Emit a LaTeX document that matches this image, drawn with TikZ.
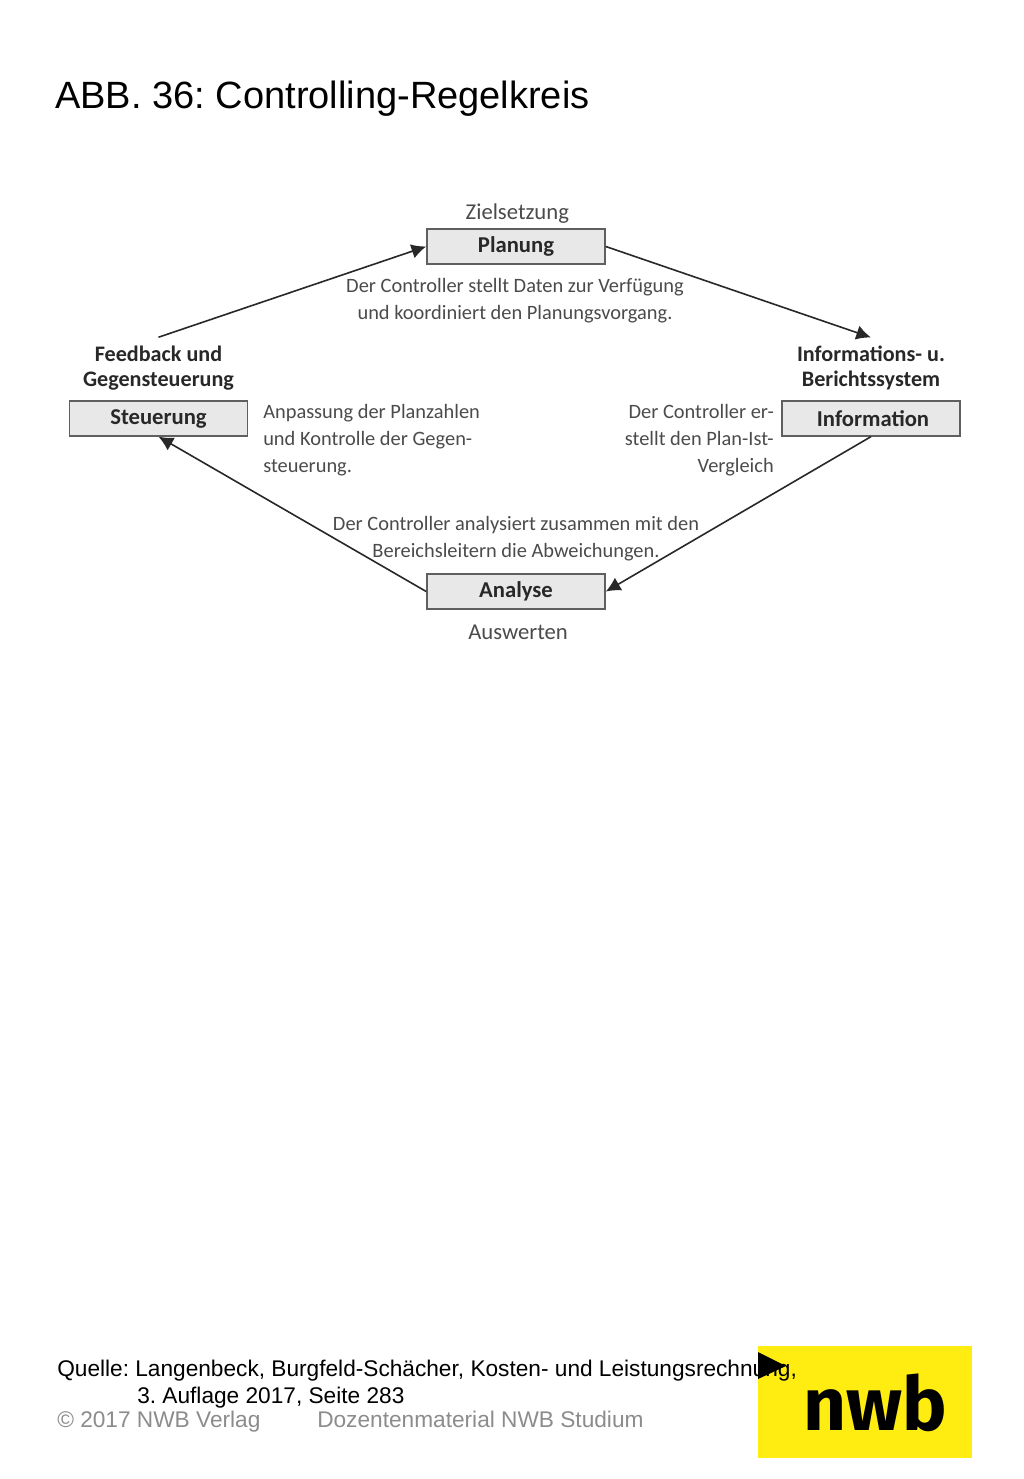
\documentclass[tikz,border=0pt]{standalone}
\usepackage{fontspec}
\setmainfont{Liberation Sans}
\newfontfamily\figfont{Carlito}
\usetikzlibrary{arrows.meta, positioning}
\definecolor{boxgray}{RGB}{232,232,232}
\definecolor{boxline}{RGB}{95,95,95}
\definecolor{figtext}{RGB}{75,75,75}
\definecolor{headtext}{RGB}{40,40,40}
\definecolor{footgray}{RGB}{140,140,140}
\definecolor{nwbyellow}{RGB}{255,237,18}

\begin{document}
\frenchspacing
\begin{tikzpicture}[
		x=0.75pt, y=-0.75pt,
		stage/.style={draw=boxline, fill=boxgray, line width=1.2pt, minimum width=133.5pt,
			minimum height=26pt, inner sep=0pt, font=\figfont\fontsize{17}{20}\selectfont\bfseries, text=headtext},
		goal/.style={align=center, inner sep=0pt, font=\figfont\fontsize{17}{20}\selectfont, text=figtext},
		headgoal/.style={goal, font=\figfont\fontsize{16.6}{19}\selectfont\bfseries, text=headtext},
		note/.style={inner sep=0pt, font=\figfont\fontsize{15.3}{20.2}\selectfont, text=figtext},
		arrow/.style={-{Latex[length=11pt, width=11pt]}, line width=1.2pt, draw=headtext},
		source/.style={anchor=base west, inner sep=0pt, font=\fontsize{17}{20}\selectfont},
		node distance=6pt
	]
		\useasboundingbox (0,0) rectangle (1024,1479);
		\fill[white] (0,0) rectangle (1024,1479);
		\node[anchor=base west, inner sep=0pt, font=\fontsize{28.5}{34}\selectfont] (title) at (55,108) {ABB. 36: Controlling-Regelkreis};
		% the four stages
		\node[stage] (plan) at (516,246.5) {Planung};
		\node[stage] (steer) at (158.5,418.5) {Steuerung};
		\node[stage] (info) at (871,418.5) {\hspace{3pt}Information};
		\node[stage] (ana) at (516,591.5) {Analyse};
		\node[goal, above=3.5pt of plan, xshift=1pt] (ziel) {Zielsetzung};
		\node[goal, below=11pt of ana, xshift=1.5pt] (ausw) {Auswerten};
		\node[headgoal, above=7.5pt of steer] (feed) {Feedback und\\Gegensteuerung};
		\node[headgoal, above=7.5pt of info] (sys) {Informations- u.\\Berichtssystem};
		\coordinate[above=6pt of feed] (feedtop);
		\coordinate[above=6pt of sys] (systop);
		% texts
		\node[note, align=center, anchor=north] (plannote) at (515,278) {Der Controller stellt Daten zur Verfügung\\und koordiniert den Planungsvorgang.};
		\node[note, align=left, anchor=north west] (steernote) at (263,404) {Anpassung der Planzahlen\\und Kontrolle der Gegen-\\steuerung.};
		\node[note, align=right, anchor=north east] (infonote) at (774,404) {Der Controller er-\\stellt den Plan-Ist-\\Vergleich};
		\node[note, align=center, anchor=north] (ananote) at (516,516) {Der Controller analysiert zusammen mit den\\Bereichsleitern die Abweichungen.};
		% arrows
		\draw[arrow] (feedtop) -- (plan.west);
		\draw[arrow] (plan.east) -- (systop);
		\draw[arrow] (info.south) -- (ana.east);
		\draw[arrow] (ana.west) -- (steer.south);
		% footer
		\node[fill=nwbyellow, minimum width=160.5pt, minimum height=84pt, inner sep=0pt] (logo) at (865,1402) {};
		\node[inner sep=0pt, font=\fontspec{Fira Sans}\bfseries\fontsize{56}{56}\selectfont] (nwb) at (875,1403) {nwb};
		\node[source] (quelle) at (57,1376) {Quelle: Langenbeck, Burgfeld-Schächer, Kosten- und Leistungsrechnung,};
		\node[source] (auflage) at (137,1403) {3. Auflage 2017, Seite 283};
		\node[source, text=footgray] (verlag) at (57,1427) {© 2017 NWB Verlag};
		\node[source, text=footgray] (dozent) at (317,1427) {Dozentenmaterial NWB Studium};
		\fill (758,1352) -- (786,1366) -- (758,1379) -- cycle;
	\end{tikzpicture}
\end{document}
